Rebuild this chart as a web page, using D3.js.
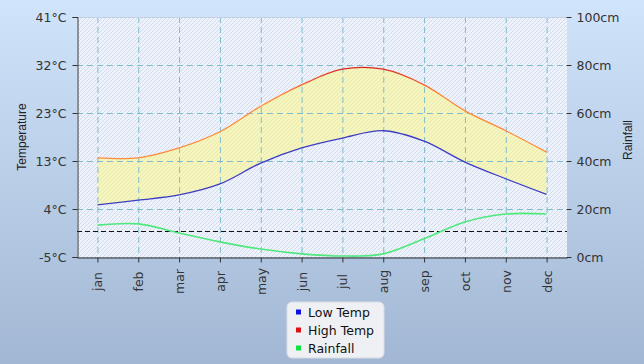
<html>
<head>
<script src="https://cdnjs.cloudflare.com/ajax/libs/d3/7.8.5/d3.min.js"></script>
<style>
body { margin: 0; }
svg { display: block; }
.tick text { font-family: 'DejaVu Sans', sans-serif; font-size: 12.5px; fill: #333; }
.title { font-family: 'Liberation Sans', Arial, sans-serif; font-size: 12px; fill: #222; }
</style>
</head>
<body>
<div id="chart"></div>
<script>

var months = ["jan", "feb", "mar", "apr", "may", "jun", "jul", "aug", "sep", "oct", "nov", "dec"];
var lowTemp = [5.0, 5.9, 6.9, 9.0, 13.0, 15.9, 17.8, 19.2, 17.2, 13.2, 10.0, 7.0];
var highTemp = [14.0, 14.0, 15.9, 19.0, 23.9, 28.0, 31.0, 31.0, 28.0, 23.0, 19.2, 15.1];
var rainfall = [13.3, 13.8, 10.0, 6.3, 3.3, 1.3, 0.4, 1.3, 7.6, 14.6, 17.9, 17.9];
var tempTicks = [-5, 4.2, 13.4, 22.6, 31.8, 41];
var rainTicks = [0, 20, 40, 60, 80, 100];
var freezing = 0;

var width = 644, height = 364;
var plotLeft = 77, plotRight = 567, plotTop = 17, plotBottom = 257;

var svg = d3.select("#chart").append("svg")
.attr("width", width).attr("height", height);

var defs = svg.append("defs");

var bg = defs.append("linearGradient").attr("id", "bg")
.attr("x1", 0).attr("y1", 0).attr("x2", 0).attr("y2", 1);
bg.append("stop").attr("offset", "0%").attr("stop-color", "#d0e4fb");
bg.append("stop").attr("offset", "100%").attr("stop-color", "#a2b7d3");

// diagonal hatch for the plot area
var hatch = defs.append("pattern").attr("id", "hatch")
.attr("width", 4).attr("height", 4).attr("patternUnits", "userSpaceOnUse");
hatch.append("rect").attr("width", 4).attr("height", 4).attr("fill", "#eef2fb");
hatch.append("path").attr("d", "M-1,1 L1,-1 M0,4 L4,0 M3,5 L5,3")
.attr("stroke", "#d3dbec").attr("stroke-width", 1);

var hatchY = defs.append("pattern").attr("id", "hatchY")
.attr("width", 4).attr("height", 4).attr("patternUnits", "userSpaceOnUse");
hatchY.append("rect").attr("width", 4).attr("height", 4).attr("fill", "#f6f6bc");
hatchY.append("path").attr("d", "M-1,1 L1,-1 M0,4 L4,0 M3,5 L5,3")
.attr("stroke", "#e6e9b4").attr("stroke-width", 1);

var hiGrad = defs.append("linearGradient").attr("id", "hiGrad")
.attr("gradientUnits", "userSpaceOnUse")
.attr("x1", 0).attr("y1", 65).attr("x2", 0).attr("y2", 95);
hiGrad.append("stop").attr("offset", "0%").attr("stop-color", "#d91c1c");
hiGrad.append("stop").attr("offset", "100%").attr("stop-color", "#ff8a3a");

svg.append("rect").attr("width", width).attr("height", height).attr("fill", "url(#bg)");

var xScale = d3.scalePoint().domain(months).range([plotLeft, plotRight]).padding(0.5);
var yTemp = d3.scaleLinear().domain([-5, 41]).range([plotBottom, plotTop]);
var yRain = d3.scaleLinear().domain([0, 100]).range([plotBottom, plotTop]);

svg.append("rect")
.attr("x", plotLeft).attr("y", plotTop).attr("width", plotRight - plotLeft).attr("height", plotBottom - plotTop)
.attr("fill", "url(#hatch)");

// area between low and high
var curve = d3.curveCatmullRom.alpha(0.5);
var band = d3.area()
.x(function (d, i) { return xScale(months[i]); })
.y0(function (d, i) { return yTemp(lowTemp[i]); })
.y1(function (d, i) { return yTemp(highTemp[i]); })
.curve(curve);
svg.append("path").datum(months).attr("d", band).attr("fill", "url(#hatchY)");

// grid
var grid = svg.append("g").attr("stroke", "#7fbccd").attr("stroke-dasharray", "6,4").attr("stroke-width", 1);
grid.selectAll("line.v").data(months).enter().append("line")
.attr("x1", function (d) { return xScale(d) + 0.5; }).attr("x2", function (d) { return xScale(d) + 0.5; })
.attr("y1", plotTop).attr("y2", plotBottom);
grid.selectAll("line.h").data(tempTicks.slice(1, -1)).enter().append("line")
.attr("x1", plotLeft).attr("x2", plotRight)
.attr("y1", function (d) { return Math.round(yTemp(d)) + 0.5; })
.attr("y2", function (d) { return Math.round(yTemp(d)) + 0.5; });

svg.append("line").attr("x1", plotLeft).attr("x2", plotRight).attr("y1", plotTop + 0.5).attr("y2", plotTop + 0.5)
.attr("stroke", "#c4d0e4");

// freezing line
svg.append("line")
.attr("x1", plotLeft).attr("x2", plotRight)
.attr("y1", Math.round(yTemp(freezing)) + 0.5).attr("y2", Math.round(yTemp(freezing)) + 0.5)
.attr("stroke", "#111").attr("stroke-dasharray", "5,3");

function lineOf(values, scale) {
	return d3.line()
	.x(function (d, i) { return xScale(months[i]); })
	.y(function (d) { return scale(d); })
	.curve(curve)(values);
}

svg.append("path").attr("d", lineOf(rainfall, yRain)).attr("fill", "none")
.attr("stroke", "#4fe87c").attr("stroke-width", 1.6);
svg.append("path").attr("d", lineOf(lowTemp, yTemp)).attr("fill", "none")
.attr("stroke", "#3d3dc2").attr("stroke-width", 1.3);
svg.append("path").attr("d", lineOf(highTemp, yTemp)).attr("fill", "none")
.attr("stroke", "url(#hiGrad)").attr("stroke-width", 1.3);

// axes
var axisLeft = d3.axisLeft(yTemp).tickValues(tempTicks).tickSize(5).tickPadding(6)
.tickFormat(function (d) { return Math.round(d) + "°C"; });
var gl = svg.append("g").attr("transform", "translate(" + (plotLeft + 0.5) + ",0)").call(axisLeft);

var axisRight = d3.axisRight(yRain).tickValues(rainTicks).tickSize(5).tickPadding(5)
.tickFormat(function (d) { return d + "cm"; });
var gr = svg.append("g").attr("transform", "translate(" + (plotRight - 0.5) + ",0)").call(axisRight);
gr.select(".domain").remove();

var axisBottom = d3.axisBottom(xScale).tickSize(5).tickSizeOuter(0);
var gb = svg.append("g").attr("transform", "translate(0," + (plotBottom + 0.5) + ")").call(axisBottom);
gb.selectAll(".tick text")
.attr("text-anchor", "middle").attr("dominant-baseline", "central")
.attr("transform", "translate(0,24) rotate(-90)").attr("y", 0).attr("dy", null).attr("x", 0);

[gl, gr, gb].forEach(function (g) {
	g.selectAll("path, line").attr("stroke", "#333");
});

svg.append("text").attr("class", "title")
.attr("transform", "translate(26,137) rotate(-90)").attr("text-anchor", "middle").text("Temperature");
svg.append("text").attr("class", "title")
.attr("transform", "translate(632,140) rotate(-90)").attr("text-anchor", "middle").text("Rainfall");

// legend
var legendItems = [
	{ name: "Low Temp", color: "#1010e0" },
	{ name: "High Temp", color: "#e01010" },
	{ name: "Rainfall", color: "#10e040" }
];
var legend = svg.append("g").attr("transform", "translate(287,302)");
legend.append("rect").attr("width", 97).attr("height", 56).attr("rx", 5)
.attr("fill", "#eef0f4").attr("stroke", "#d8dde6");
var items = legend.selectAll("g.item").data(legendItems).enter().append("g")
.attr("transform", function (d, i) { return "translate(0," + (10 + i * 18) + ")"; });
items.append("rect").attr("x", 9).attr("y", -2.5).attr("width", 5).attr("height", 5)
.attr("fill", function (d) { return d.color; });
items.append("text").attr("x", 21).attr("y", 0).attr("dominant-baseline", "central")
.style("font-family", "'DejaVu Sans', sans-serif").style("font-size", "12.5px").attr("fill", "#111")
.text(function (d) { return d.name; });

</script>
</body>
</html>
